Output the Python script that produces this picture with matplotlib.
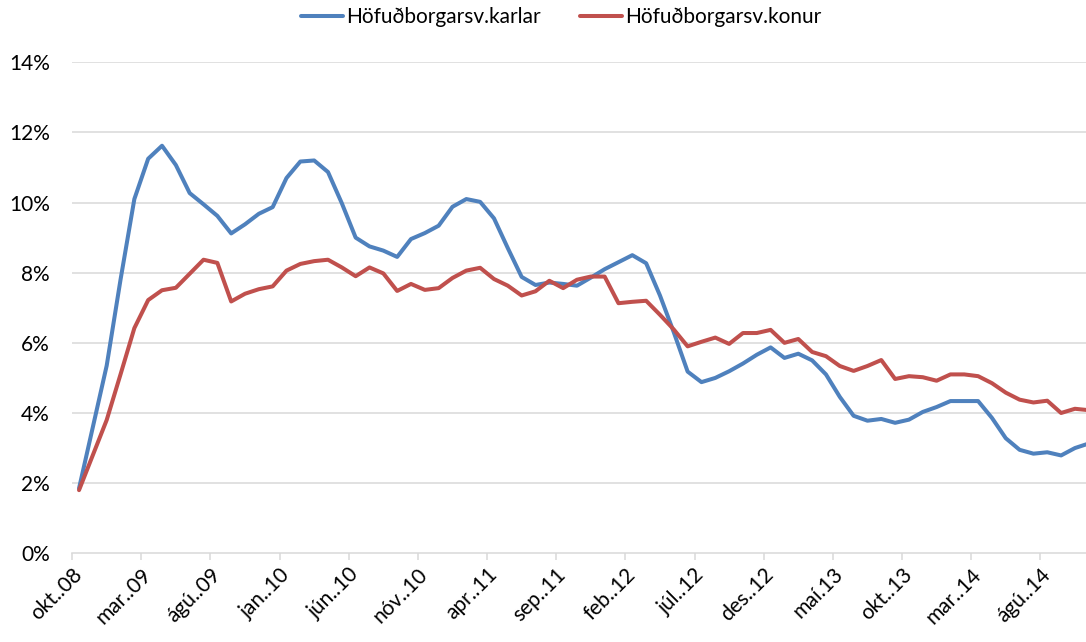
import matplotlib
matplotlib.use("Agg")
import matplotlib.pyplot as plt
from matplotlib.ticker import FixedLocator, FuncFormatter

# ---- data (monthly, okt.08 .. nóv.14) ----
karlar = [1.85, 3.6, 5.35, 7.8, 10.1, 11.25, 11.62, 11.07, 10.27, 9.95,
          9.62, 9.12, 9.38, 9.68, 9.87, 10.7, 11.17, 11.2, 10.87, 9.98,
          9.0, 8.75, 8.63, 8.45, 8.96, 9.13, 9.34, 9.88, 10.1, 10.02,
          9.55, 8.7, 7.88, 7.65, 7.72, 7.68, 7.63, 7.86, 8.1, 8.3,
          8.5, 8.27, 7.35, 6.3, 5.18, 4.88, 5.0, 5.19, 5.41, 5.66,
          5.87, 5.57, 5.69, 5.5, 5.1, 4.46, 3.92, 3.78, 3.83, 3.72,
          3.81, 4.03, 4.17, 4.34, 4.34, 4.34, 3.86, 3.28, 2.95, 2.84,
          2.88, 2.79, 3.0, 3.13]
konur = [1.8, 2.8, 3.8, 5.1, 6.42, 7.22, 7.5, 7.57, 7.97, 8.37,
         8.28, 7.18, 7.4, 7.53, 7.61, 8.06, 8.25, 8.33, 8.37, 8.15,
         7.9, 8.15, 7.98, 7.48, 7.68, 7.51, 7.56, 7.85, 8.06, 8.14,
         7.82, 7.63, 7.35, 7.47, 7.77, 7.56, 7.8, 7.89, 7.89, 7.13,
         7.17, 7.2, 6.8, 6.38, 5.9, 6.03, 6.15, 5.97, 6.28, 6.28,
         6.37, 6.0, 6.11, 5.74, 5.62, 5.34, 5.2, 5.34, 5.51, 4.97,
         5.05, 5.02, 4.92, 5.1, 5.1, 5.05, 4.85, 4.58, 4.38, 4.3,
         4.35, 4.0, 4.12, 4.08]
tick_labels = ["okt..08", "mar..09", "ágú..09", "jan..10", "jún..10", "nóv..10",
               "apr..11", "sep..11", "feb..12", "júl..12", "des..12", "maí.13",
               "okt..13", "mar..14", "ágú..14"]
series_names = ["Höfuðborgarsv.karlar", "Höfuðborgarsv.konur"]
y_ticks = [0, 2, 4, 6, 8, 10, 12, 14]

plt.rcParams['font.family'] = ['Lato', 'DejaVu Sans']

fig = plt.figure(figsize=(10.86, 6.42), dpi=100)
ax = fig.add_axes([0.0664, 0.1382, 0.9336, 0.7648])

x = list(range(len(karlar)))
l1, = ax.plot(x, karlar, color="#4F81BD", lw=2.9, solid_joinstyle="round",
              solid_capstyle="round", label=series_names[0], zorder=3)
l2, = ax.plot(x, konur, color="#C0504D", lw=2.9, solid_joinstyle="round",
              solid_capstyle="round", label=series_names[1], zorder=3)

ax.set_xlim(-0.5, 72.8)
ax.set_ylim(0, 14)

grid_c = "#D9D9D9"
ax.set_yticks(y_ticks)
ax.yaxis.set_major_formatter(FuncFormatter(lambda v, p: f"{int(v)}%"))
ax.tick_params(axis="y", length=0, pad=16, labelsize=15, colors="black")
for v in y_ticks[1:]:
    ax.axhline(v, color=grid_c, lw=1.1, zorder=1)

label_pos = [5 * k for k in range(len(tick_labels))]
ax.xaxis.set_major_locator(FixedLocator(label_pos))
ax.set_xticklabels(tick_labels, rotation=45, ha="right", va="center",
                   rotation_mode="anchor")
ax.tick_params(axis="x", which="major", length=0, pad=13, labelsize=15,
               colors="black")
ax.xaxis.set_minor_locator(FixedLocator([p - 0.5 for p in label_pos]))
ax.tick_params(axis="x", which="minor", length=5, width=1.1, color=grid_c,
               direction="out")

for s in ["top", "right", "left"]:
    ax.spines[s].set_visible(False)
ax.spines["bottom"].set_color(grid_c)
ax.spines["bottom"].set_linewidth(1.1)

fig.legend(handles=[l1, l2], loc="center", bbox_to_anchor=(0.517, 0.9735),
           ncol=2, frameon=False, fontsize=15, handlelength=2.0,
           handletextpad=0.15, columnspacing=1.9)

fig.savefig("out.png", dpi=100)
